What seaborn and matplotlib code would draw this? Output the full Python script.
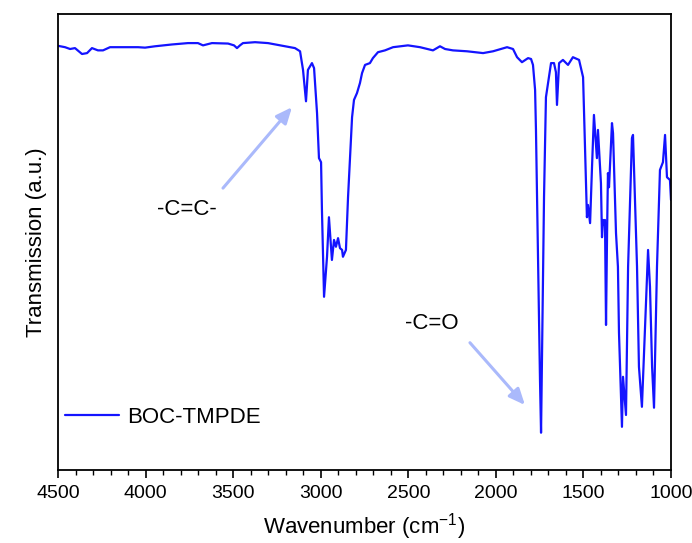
import matplotlib
matplotlib.use("Agg")
import matplotlib.pyplot as plt
import seaborn as sns
import pandas as pd

# ---- data ----
wavenumber = [4500, 4460, 4431, 4403, 4363, 4334, 4306, 4272, 4243, 4203, 4135, 4043, 4003,
              3946, 3849, 3758, 3701, 3672, 3621, 3529, 3495, 3478, 3461, 3444, 3375, 3301,
              3204, 3147, 3118, 3101, 3084, 3073, 3050, 3038, 3021, 3010, 2998, 2993, 2981,
              2964, 2953, 2936, 2924, 2913, 2901, 2890, 2878, 2873, 2856, 2844, 2821, 2810,
              2793, 2776, 2764, 2747, 2719, 2702, 2673, 2633, 2587, 2502, 2433, 2359, 2319,
              2290, 2245, 2165, 2073, 2016, 1936, 1902, 1879, 1851, 1816, 1799, 1788, 1776,
              1771, 1759, 1748, 1742, 1737, 1725, 1714, 1702, 1685, 1668, 1657, 1651, 1639,
              1617, 1588, 1560, 1525, 1502, 1491, 1480, 1474, 1462, 1451, 1440, 1423, 1417,
              1400, 1394, 1388, 1383, 1377, 1371, 1365, 1360, 1354, 1337, 1331, 1314, 1303,
              1297, 1280, 1274, 1257, 1245, 1223, 1217, 1194, 1183, 1166, 1148, 1131, 1120,
              1108, 1097, 1080, 1063, 1046, 1034, 1023, 1006, 1000]
transmission = [92.6, 92.3, 91.9, 92.1, 90.8, 91.0, 92.1, 91.6, 91.6, 92.3, 92.3, 92.3, 92.2,
                92.5, 92.9, 93.2, 93.2, 92.7, 93.2, 93.1, 92.7, 92.1, 92.7, 93.2, 93.4, 93.2,
                92.5, 92.1, 91.4, 87.3, 80.4, 87.3, 88.8, 87.7, 77.8, 67.9, 67.0, 56.5, 37.4,
                46.2, 54.9, 45.5, 49.9, 48.4, 50.3, 48.1, 47.7, 46.2, 47.7, 59.3, 76.9, 80.7,
                82.2, 84.4, 86.6, 88.4, 88.8, 89.9, 91.2, 91.6, 92.3, 92.7, 92.3, 91.6, 92.5,
                91.9, 91.6, 91.4, 91.0, 91.4, 92.3, 91.9, 90.1, 89.0, 89.9, 89.7, 88.4, 82.9,
                74.1, 44.8, 19.1, 7.5, 22.9, 59.3, 81.3, 84.4, 88.8, 88.8, 86.8, 79.6, 88.8,
                89.5, 88.4, 90.1, 89.5, 85.7, 70.3, 54.9, 57.6, 53.6, 65.9, 77.4, 67.9, 74.1,
                62.4, 50.5, 54.3, 53.2, 54.3, 31.2, 51.4, 64.6, 61.5, 75.6, 73.4, 51.4, 44.0,
                29.5, 8.8, 19.8, 11.4, 44.0, 72.3, 73.0, 44.0, 22.0, 13.2, 30.8, 47.7, 39.6,
                22.0, 13.0, 44.0, 65.3, 67.0, 73.0, 63.7, 63.1, 58.7]
series_name = "BOC-TMPDE"
x_ticks = [4500, 4000, 3500, 3000, 2500, 2000, 1500, 1000]

df = pd.DataFrame({"Wavenumber": wavenumber, "Transmission": transmission,
                   "Sample": series_name})

sns.set_theme(style="ticks")
plt.rcParams["font.family"] = ["Liberation Sans", "DejaVu Sans"]
plt.rcParams["mathtext.fontset"] = "custom"
plt.rcParams["mathtext.rm"] = "Liberation Sans"
plt.rcParams["mathtext.it"] = "Liberation Sans"
plt.rcParams["text.color"] = "black"
plt.rcParams["axes.labelcolor"] = "black"
plt.rcParams["xtick.color"] = "black"
plt.rcParams["ytick.color"] = "black"

fig = plt.figure(figsize=(6.92, 5.43), dpi=100)
ax = fig.add_axes([58 / 692, 1 - 470 / 543, 613 / 692, 456 / 543])

sns.lineplot(data=df, x="Wavenumber", y="Transmission", hue="Sample",
             palette=["#1414ff"], sort=False, estimator=None, linewidth=1.6, ax=ax)
for ln in ax.get_lines():
    ln.set_solid_joinstyle("round")

ax.set_xlim(4500, 1000)
ax.set_ylim(-0.7, 99.6)
ax.set_xticks(x_ticks)
ax.set_xticklabels([str(t) for t in x_ticks])
ax.xaxis.set_minor_locator(matplotlib.ticker.MultipleLocator(100))
ax.tick_params(axis="x", which="major", direction="out", length=6, width=1.2,
               labelsize=14, labelcolor="black", pad=5)
ax.tick_params(axis="x", which="minor", direction="out", length=3.5, width=1.0)
ax.set_yticks([])
for s in ax.spines.values():
    s.set_visible(True)
    s.set_color("black")
    s.set_linewidth(1.3)

ax.set_xlabel("Wavenumber (cm$^{\\mathrm{-1}}$)", fontsize=16, labelpad=6, color="black")
ax.set_ylabel("Transmission (a.u.)", fontsize=16, labelpad=8, color="black")

leg = ax.legend(loc="center left", bbox_to_anchor=(0.012, 0.116), frameon=False,
                fontsize=16, handlelength=2.4, handletextpad=0.4,
                borderpad=0, borderaxespad=0)
for t in leg.get_texts():
    t.set_color("black")

arrow_color = "#aab9fb"
ax.annotate("", xy=(3164, 79.1), xytext=(3558, 61.3),
            arrowprops=dict(arrowstyle="-|>,head_length=0.8,head_width=0.35",
                            color=arrow_color, lw=2.2, shrinkA=0, shrinkB=0))
ax.text(3763, 56.5, "-C=C-", fontsize=16, ha="center", va="center", color="black")
ax.annotate("", xy=(1834, 13.6), xytext=(2148, 27.3),
            arrowprops=dict(arrowstyle="-|>,head_length=0.8,head_width=0.35",
                            color=arrow_color, lw=2.2, shrinkA=0, shrinkB=0))
ax.text(2365, 31.6, "-C=O", fontsize=16, ha="center", va="center", color="black")

fig.savefig("out.png", dpi=100)
